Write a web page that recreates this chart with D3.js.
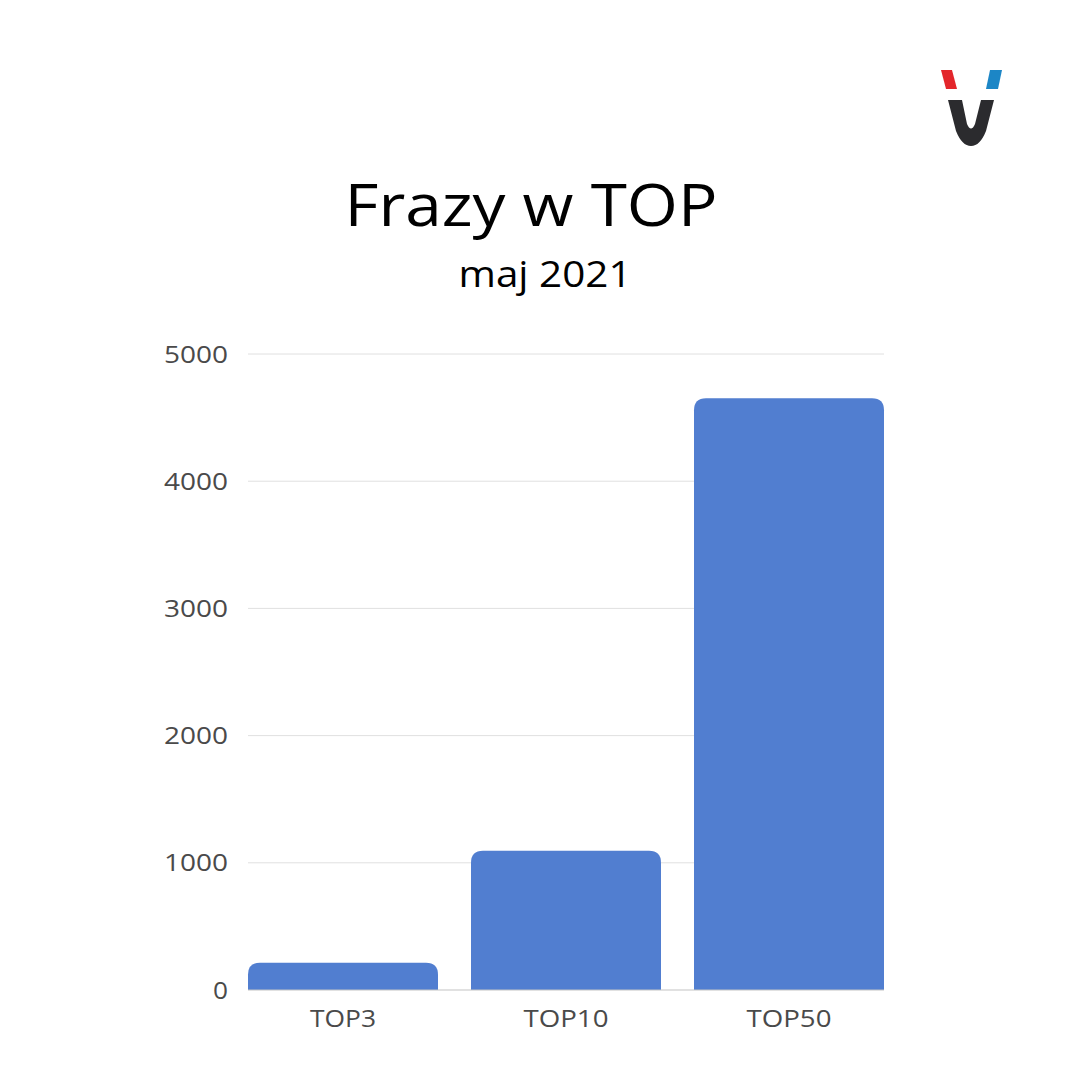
<!DOCTYPE html>
<html><head><meta charset="utf-8">
<script src="https://cdn.jsdelivr.net/npm/d3@7"></script>
<style>html,body{margin:0;padding:0;background:#fff;}svg{display:block;}</style>
</head><body>
<svg id="chart" width="1080" height="1080"></svg>
<script>
const categories = ["TOP3", "TOP10", "TOP50"];
const values = [215, 1095, 4652];
const yTicks = [0, 1000, 2000, 3000, 4000, 5000];
const title = "Frazy w TOP";
const subtitle = "maj 2021";

const svg = d3.select("#chart");
svg.append("rect").attr("width",1080).attr("height",1080).attr("fill","#fff");
const FONT = "'Open Sans', 'DejaVu Sans', sans-serif";

const x = d3.scaleBand().domain(categories).range([248, 884]).paddingInner(33/223).paddingOuter(0);
const y = d3.scaleLinear().domain([0, 5000]).range([990, 354]);

const yAxis = d3.axisLeft(y).tickValues(yTicks).tickSize(0).tickPadding(20).tickFormat(d3.format("d"));
const gAxis = svg.append("g").attr("transform","translate(248,0)").call(yAxis);
gAxis.select(".domain").remove();
gAxis.selectAll("text").attr("font-family",FONT).attr("font-size",23).attr("fill","#4a4a4a")
  .attr("dy","0.35em").attr("x",-20)
  .each(function(d){ const w = String(d).length === 4 ? 64 : 15; d3.select(this).attr("textLength", w).attr("lengthAdjust","spacingAndGlyphs"); });

svg.append("g").selectAll("line").data(yTicks.filter(d=>d>0)).join("line")
  .attr("x1",248).attr("x2",884).attr("y1",d=>y(d)).attr("y2",d=>y(d))
  .attr("stroke","#e0e0e0").attr("stroke-width",1);

const r = 12;
function barPath(x0, w, yTop, yBase){
  const rr = Math.min(r, (yBase-yTop), w/2);
  return `M${x0},${yBase}V${yTop+rr}Q${x0},${yTop} ${x0+rr},${yTop}H${x0+w-rr}Q${x0+w},${yTop} ${x0+w},${yTop+rr}V${yBase}Z`;
}
svg.append("g").selectAll("path").data(categories).join("path")
  .attr("d",(c,i)=>barPath(x(c), x.bandwidth(), y(values[i]), y(0)))
  .attr("fill","#517ed0");

svg.append("line").attr("x1",248).attr("x2",884).attr("y1",y(0)).attr("y2",y(0))
  .attr("stroke","#c4c4c4").attr("stroke-width",1.2);

const xAxis = d3.axisBottom(x).tickSize(0).tickPadding(0);
const gx = svg.append("g").attr("transform",`translate(0,${y(0)})`).call(xAxis);
gx.select(".domain").remove();
gx.selectAll("text").attr("font-family",FONT).attr("font-size",23).attr("fill","#4a4a4a")
  .attr("y",37).attr("dy","0")
  .each(function(d){ d3.select(this).attr("textLength", d.length===4 ? 66 : 85).attr("lengthAdjust","spacingAndGlyphs"); });

svg.append("text").attr("x",531).attr("y",226).attr("text-anchor","middle")
  .attr("font-family",FONT).attr("font-size",58).attr("fill","#000")
  .attr("textLength",373).attr("lengthAdjust","spacingAndGlyphs").text(title);
svg.append("text").attr("x",545).attr("y",287).attr("text-anchor","middle")
  .attr("font-family",FONT).attr("font-size",37).attr("fill","#000")
  .attr("textLength",173).attr("lengthAdjust","spacingAndGlyphs").text(subtitle);

const logo = svg.append("g");
logo.append("path").attr("d","M941,70L952,70L957,89L946,89Z").attr("fill","#e3262b");
logo.append("path").attr("d","M990,70L1002,70L998,89L986,89Z").attr("fill","#1c86c6");
logo.append("path").attr("d","M948,100L962,100L967,124Q971,133 975,124L981,100L994,100L986,131Q980,146 971,146Q962,146 956,131Z")
  .attr("fill","#2b2b2e");
</script>
</body></html>
